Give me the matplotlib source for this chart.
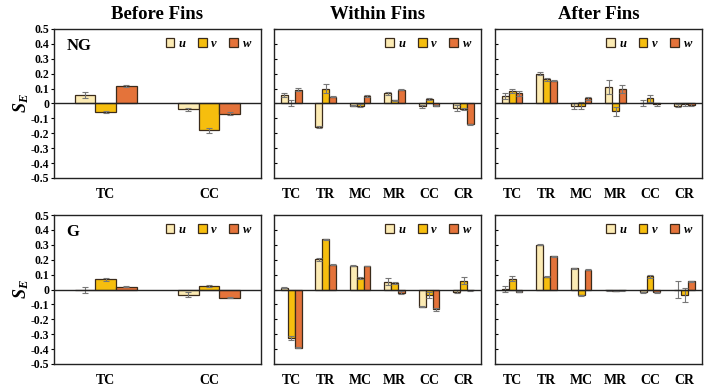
import numpy as np
import matplotlib.pyplot as plt

plt.rcParams['font.family'] = 'Liberation Serif'
plt.rcParams['font.weight'] = 'bold'
plt.rcParams['mathtext.fontset'] = 'custom'
plt.rcParams['mathtext.it'] = 'Liberation Serif:bold:italic'
plt.rcParams['mathtext.rm'] = 'Liberation Serif:bold'

titles = ["Before Fins", "Within Fins", "After Fins"]
row_tags = ["NG", "G"]
cats_before = ["TC", "CC"]
cats_fins = ["TC", "TR", "MC", "MR", "CC", "CR"]

# NG row
ng_before_u = [0.054, -0.038]
ng_before_v = [-0.058, -0.180]
ng_before_w = [0.117, -0.070]
ng_before_ue = [0.020, 0.010]
ng_before_ve = [0.005, 0.015]
ng_before_we = [0.007, 0.010]

ng_within_u = [0.058, -0.157, -0.015, 0.068, -0.020, -0.030]
ng_within_v = [0.005, 0.100, -0.015, 0.020, 0.030, -0.038]
ng_within_w = [0.092, 0.045, 0.050, 0.092, -0.015, -0.140]
ng_within_ue = [0.015, 0.005, 0.005, 0.008, 0.010, 0.020]
ng_within_ve = [0.020, 0.030, 0.010, 0.005, 0.008, 0.008]
ng_within_we = [0.010, 0.005, 0.005, 0.005, 0.005, 0.005]

ng_after_u = [0.050, 0.200, -0.020, 0.110, 0.000, -0.015]
ng_after_v = [0.083, 0.162, -0.015, -0.052, 0.034, -0.005]
ng_after_w = [0.067, 0.153, 0.034, 0.097, -0.005, -0.010]
ng_after_ue = [0.020, 0.008, 0.020, 0.045, 0.020, 0.008]
ng_after_ve = [0.015, 0.010, 0.025, 0.030, 0.025, 0.010]
ng_after_we = [0.015, 0.005, 0.010, 0.030, 0.010, 0.010]

# G row
g_before_u = [-0.005, -0.035]
g_before_v = [0.070, 0.022]
g_before_w = [0.020, -0.055]
g_before_ue = [0.020, 0.015]
g_before_ve = [0.010, 0.008]
g_before_we = [0.005, 0.003]

g_within_u = [0.013, 0.203, 0.160, 0.053, -0.115, -0.015]
g_within_v = [-0.324, 0.337, 0.077, 0.042, -0.037, 0.060]
g_within_w = [-0.390, 0.165, 0.158, -0.022, -0.134, -0.005]
g_within_ue = [0.005, 0.010, 0.003, 0.025, 0.005, 0.010]
g_within_ve = [0.015, 0.005, 0.008, 0.008, 0.020, 0.025]
g_within_we = [0.005, 0.003, 0.003, 0.010, 0.010, 0.005]

g_after_u = [0.003, 0.300, 0.141, -0.005, -0.020, 0.000]
g_after_v = [0.073, 0.086, -0.040, -0.010, 0.090, -0.037]
g_after_w = [-0.015, 0.222, 0.134, -0.005, -0.020, 0.055]
g_after_ue = [0.020, 0.003, 0.003, 0.003, 0.005, 0.055]
g_after_ve = [0.015, 0.005, 0.005, 0.003, 0.010, 0.050]
g_after_we = [0.005, 0.003, 0.003, 0.003, 0.005, 0.005]

panels = [
    [(cats_before, ng_before_u, ng_before_v, ng_before_w, ng_before_ue, ng_before_ve, ng_before_we),
     (cats_fins, ng_within_u, ng_within_v, ng_within_w, ng_within_ue, ng_within_ve, ng_within_we),
     (cats_fins, ng_after_u, ng_after_v, ng_after_w, ng_after_ue, ng_after_ve, ng_after_we)],
    [(cats_before, g_before_u, g_before_v, g_before_w, g_before_ue, g_before_ve, g_before_we),
     (cats_fins, g_within_u, g_within_v, g_within_w, g_within_ue, g_within_ve, g_within_we),
     (cats_fins, g_after_u, g_after_v, g_after_w, g_after_ue, g_after_ve, g_after_we)],
]

colors = ["#FCEBB4", "#F6BE0E", "#E4733A"]
labels = ["$u$", "$v$", "$w$"]
edge = "#3b2b1b"

fig = plt.figure(figsize=(7.06, 3.86), dpi=100)
lefts = [0.0765, 0.388, 0.701]
width = 0.293
bottoms = [0.539, 0.057]
height = 0.386

yticks = np.round(np.arange(-0.5, 0.51, 0.1), 1)
yticklabels = ["0" if abs(t) < 1e-9 else f"{t:.1f}" for t in yticks]

for r in range(2):
    for c in range(3):
        ax = fig.add_axes([lefts[c], bottoms[r], width, height])
        cats, u, v, w, ue, ve, we = panels[r][c]
        x = np.arange(len(cats))
        bw = 0.2
        for k, (vals, errs) in enumerate(zip([u, v, w], [ue, ve, we])):
            ax.bar(x + (k - 1) * bw, vals, bw, color=colors[k], edgecolor=edge,
                   linewidth=0.9, label=labels[k], zorder=2,
                   yerr=errs, error_kw=dict(ecolor="#777777", elinewidth=0.8,
                                            capsize=2, capthick=0.8))
        ax.axhline(0, color="#222222", linewidth=1.0, zorder=3)
        ax.set_xlim(-0.5, len(cats) - 0.5)
        ax.set_ylim(-0.5, 0.5)
        ax.set_xticks(x)
        ax.set_xticklabels(cats, fontsize=10, fontweight="bold")
        ax.tick_params(axis="x", length=0, pad=7)
        ax.set_yticks(yticks)
        if c == 0:
            ax.set_yticklabels(yticklabels, fontsize=8.5, fontweight="bold")
            ax.tick_params(axis="y", direction="out", length=2.5, pad=1)
            ax.set_ylabel("$S_E$", fontsize=13, labelpad=0)
            ax.text(0.06, 0.86, row_tags[r], transform=ax.transAxes,
                    fontsize=12, fontweight="bold")
        else:
            ax.set_yticklabels([])
            ax.tick_params(axis="y", direction="in", length=2.5)
        for s in ax.spines.values():
            s.set_linewidth(1.0)
            s.set_color("#222222")
        if r == 0:
            ax.set_title(titles[c], fontsize=13.5, fontweight="bold", pad=7)
        ax.legend(loc="upper right", ncol=3, frameon=False, fontsize=9,
                  handlelength=0.7, handleheight=0.7, handletextpad=0.3,
                  columnspacing=0.9, borderaxespad=0.3)

fig.savefig("out.png", dpi=100)
